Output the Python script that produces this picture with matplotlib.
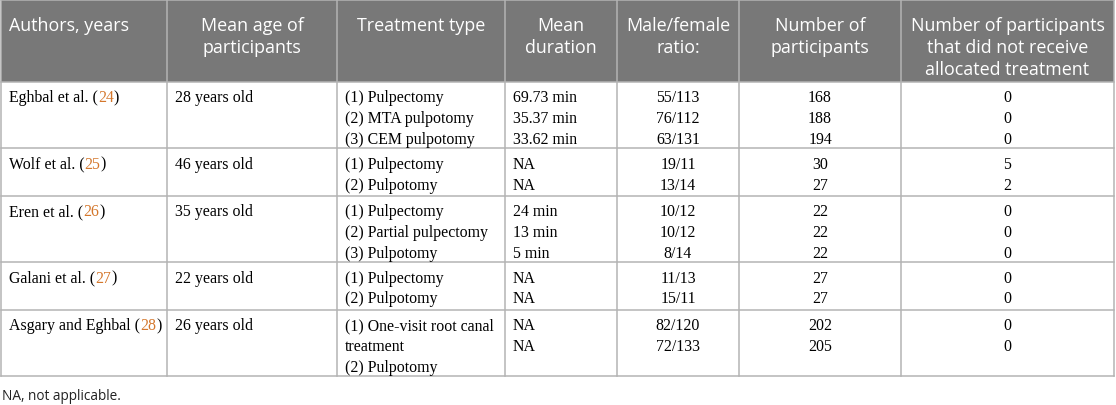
import matplotlib.pyplot as plt
from matplotlib.patches import Rectangle

# --- dados da tabela ---
headers = [
    ["Authors, years"],
    ["Mean age of", "participants"],
    ["Treatment type"],
    ["Mean", "duration"],
    ["Male/female", "ratio:"],
    ["Number of", "participants"],
    ["Number of participants", "that did not receive", "allocated treatment"],
]
authors = ["Eghbal et al.", "Wolf et al.", "Eren et al.", "Galani et al.", "Asgary and Eghbal"]
refs = ["24", "25", "26", "27", "28"]
ages = ["28 years old", "46 years old", "35 years old", "22 years old", "26 years old"]
treatments = [
    ["(1) Pulpectomy", "(2) MTA pulpotomy", "(3) CEM pulpotomy"],
    ["(1) Pulpectomy", "(2) Pulpotomy"],
    ["(1) Pulpectomy", "(2) Partial pulpectomy", "(3) Pulpotomy"],
    ["(1) Pulpectomy", "(2) Pulpotomy"],
    ["(1) One-visit root canal", "treatment", "(2) Pulpotomy"],
]
durations = [
    ["69.73 min", "35.37 min", "33.62 min"],
    ["NA", "NA"],
    ["24 min", "13 min", "5 min"],
    ["NA", "NA"],
    ["NA", "NA"],
]
ratios = [
    ["55/113", "76/112", "63/131"],
    ["19/11", "13/14"],
    ["10/12", "10/12", "8/14"],
    ["11/13", "15/11"],
    ["82/120", "72/133"],
]
numbers = [[168, 188, 194], [30, 27], [22, 22, 22], [27, 27], [202, 205]]
not_received = [[0, 0, 0], [5, 2], [0, 0, 0], [0, 0], [0, 0]]
footnote = "NA, not applicable."

# --- layout (pixels) ---
W, H = 1116, 406
col_x = [1, 167, 337, 505, 617, 739, 901, 1114]
header_h = 82.7
line_h = 20.8
pad = 8
grid_col = "#b4b4b4"
head_bg = "#787878"
orange = "#d4772c"
head_font = "Open Sans"
body_font = "Liberation Serif"
head_size = 12.9
body_size = 11.4

fig = plt.figure(figsize=(W / 100, H / 100), dpi=100)
ax = fig.add_axes([0, 0, 1, 1])
ax.set_xlim(0, W)
ax.set_ylim(H, 0)
ax.axis("off")
renderer = fig.canvas.get_renderer()

# cabeçalho
ax.add_patch(Rectangle((col_x[0], 0), col_x[-1] - col_x[0], header_h,
                       facecolor=head_bg, edgecolor="none", zorder=0))
for j, lines in enumerate(headers):
    for i, line in enumerate(lines):
        y = 31 + 22 * i
        if j == 0:
            ax.text(col_x[0] + pad, y, line, ha="left", va="baseline",
                    color="white", fontsize=head_size, family=head_font)
        else:
            ax.text((col_x[j] + col_x[j + 1]) / 2, y, line, ha="center",
                    va="baseline", color="white", fontsize=head_size,
                    family=head_font)

# linhas do corpo
row_tops = [header_h]
for k in range(len(authors)):
    n = max(len(treatments[k]), len(durations[k]))
    row_tops.append(row_tops[-1] + 8.5 + 19.4 * n)

body_kw = dict(fontsize=body_size, family=body_font, color="black",
               va="center_baseline")

for k in range(len(authors)):
    y0 = row_tops[k] + 13.3
    # autores com referência laranja
    x0 = col_x[0] + pad
    t = ax.text(x0, y0, authors[k] + " (", ha="left", **body_kw)
    x_ref = t.get_window_extent(renderer).x1
    tmp = ax.text(x0, y0, authors[k] + " (" + refs[k], ha="left", alpha=0, **body_kw)
    x_close = tmp.get_window_extent(renderer).x1
    ax.text(x_ref, y0, refs[k], ha="left", **{**body_kw, "color": orange})
    ax.text(x_close, y0, ")", ha="left", **body_kw)

    ax.text(col_x[1] + pad, y0, ages[k], ha="left", **body_kw)
    for i, s in enumerate(treatments[k]):
        ax.text(col_x[2] + pad, y0 + i * line_h, s, ha="left", **body_kw)
    for i, s in enumerate(durations[k]):
        ax.text(col_x[3] + pad, y0 + i * line_h, s, ha="left", **body_kw)
    for i, s in enumerate(ratios[k]):
        ax.text((col_x[4] + col_x[5]) / 2, y0 + i * line_h, s, ha="center", **body_kw)
    for i, v in enumerate(numbers[k]):
        ax.text((col_x[5] + col_x[6]) / 2, y0 + i * line_h, str(v), ha="center", **body_kw)
    for i, v in enumerate(not_received[k]):
        ax.text((col_x[6] + col_x[7]) / 2, y0 + i * line_h, str(v), ha="center", **body_kw)

# grade
bottom = row_tops[-1]
for y in row_tops:
    ax.plot([col_x[0], col_x[-1]], [y, y], color=grid_col, lw=1.1, zorder=2)
ax.plot([col_x[0], col_x[-1]], [0.5, 0.5], color=grid_col, lw=1.1, zorder=2)
for x in col_x:
    ax.plot([x, x], [0, bottom], color=grid_col, lw=1.1, zorder=2)

# nota de rodapé
ax.text(2, 400, footnote, ha="left", va="baseline", fontsize=9.8,
        family=head_font, color="#222222")

plt.savefig("out.png", dpi=100)
plt.close()
